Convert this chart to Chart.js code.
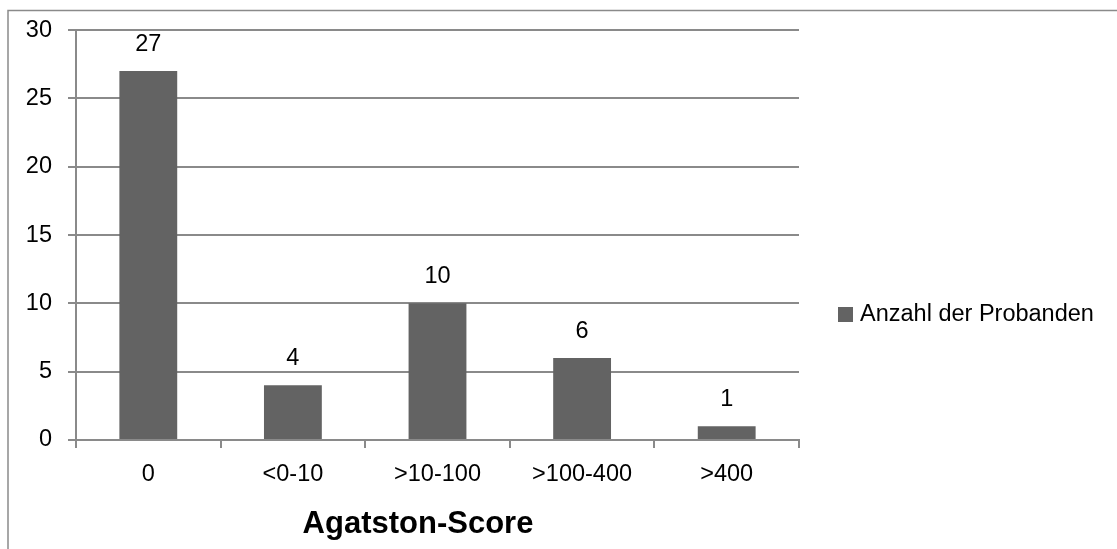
<!DOCTYPE html>
<html>
<head>
<meta charset="utf-8">
<script src="https://cdn.jsdelivr.net/npm/chart.js@4/dist/chart.umd.min.js"></script>
<style>
html,body{margin:0;padding:0;background:#fff;}
#wrap{width:1117px;height:549px;position:relative;}
</style>
</head>
<body>
<div id="wrap"><canvas id="c" width="1117" height="549"></canvas></div>
<script>
const categories = ["0", "<0-10", ">10-100", ">100-400", ">400"];
const seriesLabel = "Anzahl der Probanden";
const seriesValues = [27, 4, 10, 6, 1];
const yTicks = [0, 5, 10, 15, 20, 25, 30];
const axisTitle = "Agatston-Score";

const FONT = "'Liberation Sans', Arial, sans-serif";
const GRID = "#8a8a8a";
const BAR = "#636363";

const framePlugin = {
  id: "frame",
  beforeDraw(chart) {
    const ctx = chart.ctx;
    ctx.save();
    ctx.fillStyle = "#fff";
    ctx.fillRect(0, 0, chart.width, chart.height);
    ctx.strokeStyle = GRID;
    ctx.lineWidth = 1.5;
    ctx.beginPath();
    ctx.moveTo(8, chart.height + 5);
    ctx.lineTo(8, 10.5);
    ctx.lineTo(chart.width + 5, 10.5);
    ctx.stroke();
    ctx.restore();
  }
};

const labelsPlugin = {
  id: "valueLabels",
  afterDatasetsDraw(chart) {
    const ctx = chart.ctx;
    const meta = chart.getDatasetMeta(0);
    ctx.save();
    ctx.fillStyle = "#000";
    ctx.font = "23.5px " + FONT;
    ctx.textAlign = "center";
    ctx.textBaseline = "middle";
    meta.data.forEach((bar, i) => {
      ctx.fillText(String(chart.data.datasets[0].data[i]), bar.x, bar.y - 27);
    });
    // legend
    const lx = 838, ly = 314;
    ctx.fillStyle = BAR;
    ctx.fillRect(lx, ly - 7, 15, 15);
    ctx.fillStyle = "#000";
    ctx.textAlign = "left";
    ctx.fillText(chart.data.datasets[0].label, lx + 22, ly + 1);
    // axis title
    ctx.font = "bold 31px " + FONT;
    ctx.textAlign = "center";
    ctx.fillText(axisTitle, 418, 524);
    ctx.restore();
  }
};

new Chart(document.getElementById("c"), {
  type: "bar",
  data: {
    labels: categories,
    datasets: [{
      label: seriesLabel,
      data: seriesValues,
      backgroundColor: BAR,
      borderWidth: 0,
      barPercentage: 0.4,
      categoryPercentage: 1.0
    }]
  },
  options: {
    responsive: false,
    animation: false,
    devicePixelRatio: 1,
    layout: { padding: { left: 0, top: 27, right: 318, bottom: 0 } },
    plugins: {
      legend: { display: false },
      tooltip: { enabled: false },
      title: { display: false }
    },
    scales: {
      x: {
        afterFit(s) { s.height = 109; },
        grid: {
          display: true,
          drawOnChartArea: false,
          drawTicks: true,
          tickLength: 8,
          color: GRID,
          lineWidth: 2,
          offset: true
        },
        border: { display: true, color: GRID, width: 2 },
        ticks: {
          color: "#000",
          font: { family: FONT, size: 23.5 },
          padding: 12,
          maxRotation: 0
        }
      },
      y: {
        min: 0,
        max: 30,
        afterFit(s) { s.width = 76; },
        afterBuildTicks(s) { s.ticks = yTicks.map(v => ({ value: v })); },
        grid: {
          display: true,
          drawOnChartArea: true,
          drawTicks: true,
          tickLength: 8,
          color: GRID,
          lineWidth: 2
        },
        border: { display: true, color: GRID, width: 2 },
        ticks: {
          color: "#000",
          font: { family: FONT, size: 23.5 },
          padding: 16
        }
      }
    }
  },
  plugins: [framePlugin, labelsPlugin]
});
</script>
</body>
</html>
